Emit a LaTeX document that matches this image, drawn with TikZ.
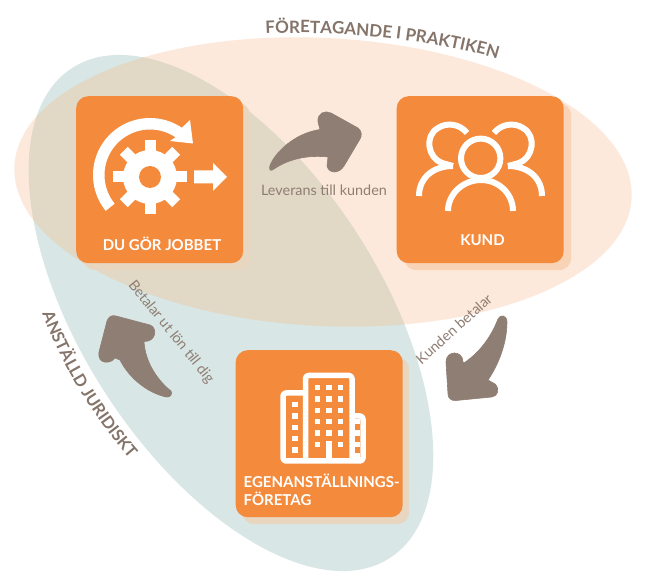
\documentclass[tikz,border=0pt]{standalone}
\usepackage{fontspec}
\setmainfont{Lato}
\usetikzlibrary{decorations.text}
\definecolor{peach}{HTML}{FDE9DB}
\definecolor{teal}{HTML}{D8E7E5}
\definecolor{tan}{HTML}{E2D8C6}
\definecolor{boxor}{HTML}{F48A3C}
\definecolor{shad}{HTML}{F9D3B6}
\definecolor{shadb}{HTML}{E8D6C0}
\definecolor{brown}{HTML}{8F7E74}
\definecolor{headbrown}{HTML}{85746A}
\tikzset{
 boxnode/.style={fill=boxor,rounded corners=12pt,minimum width=167pt,minimum height=167pt,inner sep=0pt,anchor=north west},
 shadownode/.style={fill=shad,rounded corners=12pt,minimum width=167pt,minimum height=167pt,inner sep=0pt,anchor=north west},
 boxlabel/.style={text=white,font=\bfseries\fontsize{15}{18}\selectfont,inner sep=0pt},
 smalltext/.style={text=brown,font=\fontsize{14.4}{16}\selectfont,inner sep=0pt},
 blob/.style={fill=brown,draw=brown,line width=.6pt,line join=round},
 ico/.style={draw=white,line width=6pt,fill=none}
}
\begin{document}
\begin{tikzpicture}[x=1pt,y=-1pt]
\useasboundingbox (0,0) rectangle (654,585);
\fill[white] (0,0) rectangle (654,585);
% ellipses
\fill[peach] (323,182) ellipse[x radius=309,y radius=144,rotate=-3];
\fill[teal] (231,313) ellipse[x radius=292,y radius=149,rotate=-57];
\begin{scope}
 \clip (323,182) ellipse[x radius=309,y radius=144,rotate=-3];
 \fill[tan] (231,313) ellipse[x radius=292,y radius=149,rotate=-57];
\end{scope}
% boxes
\node[shadownode,fill=shadb] (s1) at (83,103) {};
\node[shadownode] (s2) at (404,103) {};
\node[shadownode,fill=shadb] (s3) at (242,357) {};
\node[boxnode] (b1) at (76,96) {};
\node[boxnode] (b2) at (396.5,96) {};
\node[boxnode] (b3) at (235.5,350) {};
% labels
\node[boxlabel] (l1) at (162,244) {DU GÖR JOBBET};
\node[boxlabel] (l2) at (482.5,240) {KUND};
\node[boxlabel,anchor=west] (l3a) at (243.5,481) {EGENANSTÄLLNINGS-};
\node[boxlabel,anchor=west] (l3b) at (243.5,499) {FÖRETAG};
% gear
\fill[white] (150,177) circle[radius=27];
\foreach \a in {0,45,...,315}{
 \fill[white,rotate around={\a:(150,177)}] (144.5,140) rectangle (155.5,170);
}
\fill[boxor] (150,177) circle[radius=11];
% circular arrow
\fill[white] plot[domain=141:304,samples=50] ({150+57*cos(\x)},{175+57*sin(\x)})
  -- (190,120) -- (193,143.5) -- (170,141)
  -- plot[domain=304:141,samples=50] ({150+45.5*cos(\x)},{175+45.5*sin(\x)}) -- cycle;
% right arrow
\fill[white] (194,170.5) -- (213,170.5) -- (213,163) -- (227,177) -- (213,191) -- (213,183.5) -- (194,183.5) -- cycle;
% people
\draw[ico] (480.7,158.3) circle[radius=19.7];
\draw[ico] (448,211) .. controls (448,194) and (463,180) .. (481,180) .. controls (499,180) and (513,194) .. (513,211);
\draw[ico] (467,133) .. controls (460,124) and (447,122) .. (438,128) .. controls (424,136) and (428,158) .. (442,163) -- (453,166);
\draw[ico] (419,196) .. controls (419,178) and (433,166) .. (453,166);
\draw[ico] (494,133) .. controls (501,124) and (514,122) .. (523,128) .. controls (537,136) and (533,158) .. (519,163) -- (508,166);
\draw[ico] (542,196) .. controls (542,178) and (528,166) .. (508,166);
% building
\draw[draw=white,line width=5.5pt,line join=round,fill=none,rounded corners=3pt] (305.5,461) -- (305.5,375.5) -- (352,375.5) -- (352,461);
\draw[draw=white,line width=5.5pt,line join=round,rounded corners=3pt] (305.5,393) -- (283,393) -- (283,461) -- (363,461) -- (363,416) -- (352,416);
\foreach \x in {317.7,329,340.3}\foreach \y in {387.7,399,410.3,421.7,433,444.3}{
 \fill[white] (\x-2.7,\y-2.7) rectangle (\x+2.7,\y+2.7);
}
\fill[white] (326,441) rectangle (332,461);
\foreach \y in {404.7,416,427.3,438.7,450}{\fill[white] (292.2,\y-2.7) rectangle (297.6,\y+2.7);}
\foreach \y in {421.7,433,444.3,455.7}{\fill[white] (354,\y-2.7) rectangle (360,\y+2.7);}
% brown arrows
\fill[blob] (270,170) .. controls (266,166) and (285,135) .. (320,129.5)
  -- (318,122) .. controls (317,113) and (325,110) .. (331,113)
  -- (358,128) .. controls (362,131) and (362,136) .. (360,139)
  -- (344,166) .. controls (339,174) and (329,174) .. (327,166)
  -- (328,157) .. controls (310,155) and (290,158) .. (274,169)
  .. controls (272,170.5) and (271,170.5) .. (270,170) -- cycle;
\fill[blob] (498,319) .. controls (500,314) and (507,315) .. (507,322)
  .. controls (507,345) and (497,367) .. (488,380)
  -- (495,384) .. controls (500,389) and (498,396) .. (492,397)
  -- (456,400.5) .. controls (451,401) and (448,398) .. (448,394)
  -- (446,362) .. controls (446,350) and (463,350) .. (463,362)
  -- (464,363) .. controls (480,352) and (491,337) .. (498,319) -- cycle;
\fill[blob] (171,391) .. controls (173,394) and (170,398) .. (166,397)
  .. controls (145,392) and (128,376) .. (120,360)
  -- (115,358) .. controls (111,364) and (97,365) .. (99,352)
  -- (107,321) .. controls (109,316) and (112,315) .. (116,316)
  -- (150,325) .. controls (158,328) and (156,342) .. (144,341.5)
  .. controls (145,362) and (158,381) .. (171,391) -- cycle;
% small texts
\node[smalltext] (t1) at (324,190) {Leverans till kunden};
\node[smalltext,rotate=-51] (t2) at (171,332) {Betalar ut lön till dig};
\node[smalltext,rotate=42] (t3) at (454,329) {Kunden betalar};
% headings
\coordinate (ha) at (262,34);
\coordinate (hb) at (501,60);
\path[decorate,decoration={text along path,text align=center,
  text={|\fontsize{17}{20}\selectfont\bfseries\color{headbrown}|FÖRETAGANDE I PRAKTIKEN}}]
  (ha) .. controls (330,30) and (430,38) .. (hb);
\coordinate (ja) at (40,307);
\coordinate (jb) at (134,464);
\path[decorate,decoration={text along path,text align=center,
  text={|\fontsize{16.5}{20}\selectfont\bfseries\color{headbrown}|ANSTÄLLD JURIDISKT}}]
  (ja) .. controls (60,365) and (95,420) .. (jb);
\end{tikzpicture}
\end{document}
